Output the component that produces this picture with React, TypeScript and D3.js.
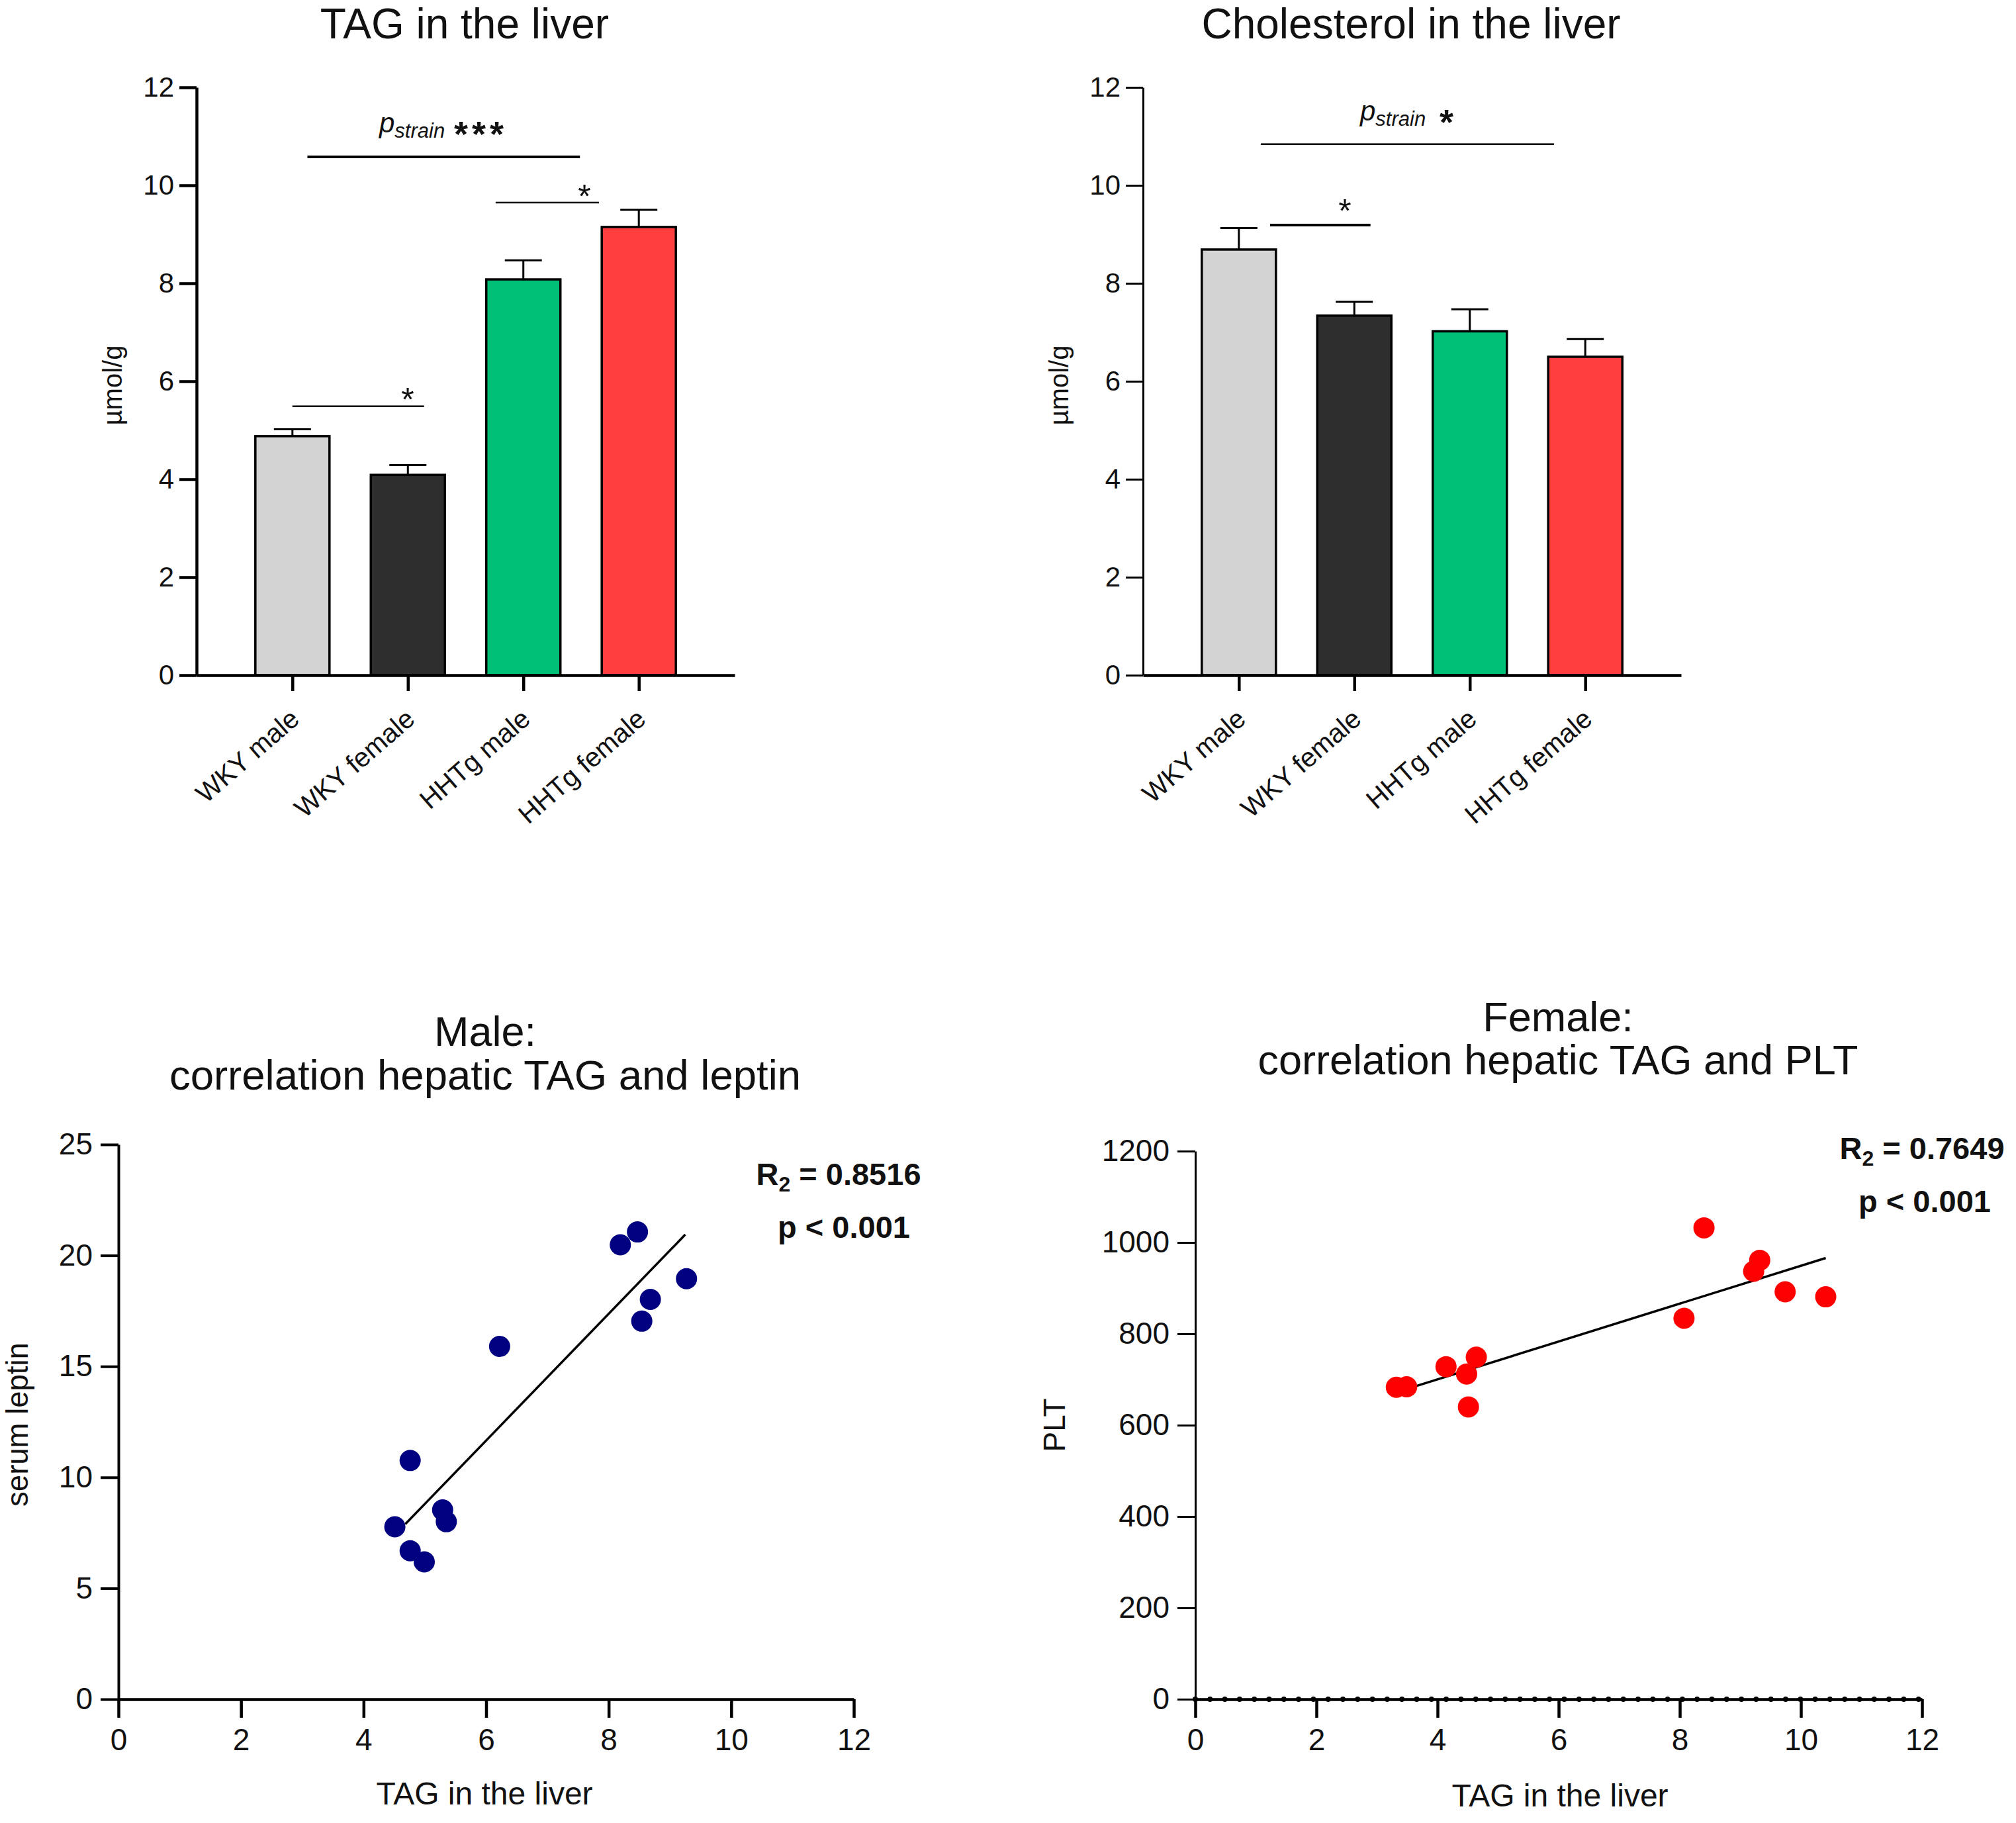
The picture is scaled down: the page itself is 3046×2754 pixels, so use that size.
import { useEffect, useRef } from "react";
import * as d3 from "d3";

const groups = ["WKY male", "WKY female", "HHTg male", "HHTg female"];
const barColors = ["#d3d3d3", "#2e2e2e", "#00c077", "#ff3f3f"];
const barTicks = [0, 2, 4, 6, 8, 10, 12];

const tagMeans = [4.88, 4.09, 8.08, 9.15];
const tagErrors = [0.14, 0.2, 0.39, 0.35];
const cholMeans = [8.69, 7.34, 7.02, 6.5];
const cholErrors = [0.44, 0.28, 0.45, 0.36];

// [from group index, to group index, value, stroke]
const tagBrackets = [
  [0.13, 2.49, 10.58, 4],
  [1.76, 2.655, 9.65, 2.5],
  [0, 1.14, 5.49, 2.5],
];
const cholBrackets = [
  [0.19, 2.73, 10.84, 2.5],
  [0.27, 1.14, 9.19, 4],
];

const maleTag = [4.51, 4.76, 4.76, 4.99, 5.29, 5.35, 6.22, 8.19, 8.47, 8.54, 8.68, 9.27];
const maleLeptin = [7.77, 10.76, 6.69, 6.19, 8.53, 8.0, 15.9, 20.48, 21.06, 17.04, 18.02, 18.95];
const maleFitX = [4.68, 9.25];
const maleFitY = [7.89, 20.94];

const femaleTag = [3.32, 3.49, 4.14, 4.48, 4.51, 4.64, 8.07, 8.4, 9.22, 9.32, 9.74, 10.41];
const femalePlt = [683, 684, 728, 712, 640, 749, 834, 1032, 937, 961, 892, 881];
const femaleFitX = [3.56, 10.41];
const femaleFitY = [682, 966];

const scatterXTicks = [0, 2, 4, 6, 8, 10, 12];
const leptinTicks = [0, 5, 10, 15, 20, 25];
const pltTicks = [0, 200, 400, 600, 800, 1000, 1200];

const FONT = "'Liberation Sans', Arial, sans-serif";

type Sel = d3.Selection<any, unknown, null, undefined>;

const label = (g: Sel, x: number, y: number, text: string, size: number, rotate = 0) =>
  g
    .append("text")
    .attr("transform", `translate(${x},${y}) rotate(${rotate})`)
    .attr("text-anchor", "middle")
    .attr("font-size", size)
    .attr("fill", "#111")
    .text(text);

const styleAxis = (a: Sel, width: number, size: number) => {
  a.selectAll("path,line").attr("stroke", "#000").attr("stroke-width", width);
  a.selectAll("text").attr("font-size", size).attr("font-family", FONT).attr("fill", "#111");
};

function barPanel(
  svg: Sel,
  left: number,
  means: number[],
  errors: number[],
  brackets: number[][],
  yWidth: number
) {
  const top = 132;
  const bottom = 1020;
  const right = left + 813;
  const g = svg.append("g");
  const y = d3.scaleLinear().domain([0, 12]).range([bottom, top]);
  const x = d3.scalePoint().domain(groups).range([left, right]).padding(0.83);
  const idx = d3.scaleLinear().domain([0, 3]).range([x(groups[0])!, x(groups[3])!]);
  const barW = 112;
  const capW = 56;

  groups.forEach((name, i) => {
    const cx = x(name)!;
    g.append("line")
      .attr("x1", cx)
      .attr("x2", cx)
      .attr("y1", y(means[i]))
      .attr("y2", y(means[i] + errors[i]))
      .attr("stroke", "#000")
      .attr("stroke-width", 3);
    g.append("line")
      .attr("x1", cx - capW / 2)
      .attr("x2", cx + capW / 2)
      .attr("y1", y(means[i] + errors[i]))
      .attr("y2", y(means[i] + errors[i]))
      .attr("stroke", "#000")
      .attr("stroke-width", 3);
    g.append("rect")
      .attr("x", cx - barW / 2)
      .attr("width", barW)
      .attr("y", y(means[i]))
      .attr("height", bottom - y(means[i]))
      .attr("fill", barColors[i])
      .attr("stroke", "#000")
      .attr("stroke-width", 3.5);
  });

  const yAxis = g
    .append("g")
    .attr("transform", `translate(${left},0)`)
    .call(d3.axisLeft(y).tickValues(barTicks).tickFormat(d3.format("d")).tickSize(26).tickSizeOuter(0).tickPadding(8));
  styleAxis(yAxis, yWidth, 42);

  const xAxis = g
    .append("g")
    .attr("transform", `translate(0,${bottom})`)
    .call(d3.axisBottom(x).tickSize(24).tickSizeOuter(0).tickFormat(() => ""));
  styleAxis(xAxis, 4.5, 40);

  groups.forEach((name) => {
    g.append("text")
      .attr("transform", `translate(${x(name)! + 13},${bottom + 70}) rotate(-41)`)
      .attr("text-anchor", "end")
      .attr("font-size", 40.5)
      .attr("fill", "#111")
      .text(name);
  });

  brackets.forEach(([a, b, v, w]) => {
    g.append("line")
      .attr("x1", idx(a))
      .attr("x2", idx(b))
      .attr("y1", y(v))
      .attr("y2", y(v))
      .attr("stroke", "#000")
      .attr("stroke-width", w);
  });
  label(g, left - 113, 582, "µmol/g", 40, -90);
}

function strainNote(g: Sel, x: number, y: number, stars: string, starX: number) {
  const t = g.append("text").attr("x", x).attr("y", y).attr("font-size", 42).attr("font-style", "italic").attr("fill", "#111");
  t.append("tspan").text("p");
  t.append("tspan").attr("dy", 8).attr("font-size", 31).text("strain");
  g.append("text")
    .attr("x", starX)
    .attr("y", y + 21)
    .attr("font-size", 54)
    .attr("font-weight", "bold")
    .attr("letter-spacing", 6)
    .attr("fill", "#111")
    .text(stars);
}

function star(g: Sel, x: number, y: number) {
  g.append("text").attr("x", x).attr("y", y).attr("text-anchor", "middle").attr("font-size", 50).attr("fill", "#111").text("*");
}

function scatterPanel(
  svg: Sel,
  opts: {
    left: number;
    right: number;
    top: number;
    yMax: number;
    yTicks: number[];
    xs: number[];
    ys: number[];
    fitX: number[];
    fitY: number[];
    color: string;
    yWidth: number;
    dotted: boolean;
  }
) {
  const bottom = 2567;
  const { left, right, top, yMax, yTicks, xs, ys, fitX, fitY, color, yWidth, dotted } = opts;
  const g = svg.append("g");
  const x = d3.scaleLinear().domain([0, 12]).range([left, right]);
  const y = d3.scaleLinear().domain([0, yMax]).range([bottom, top]);

  const yAxis = g
    .append("g")
    .attr("transform", `translate(${left},0)`)
    .call(d3.axisLeft(y).tickValues(yTicks).tickFormat(d3.format("d")).tickSize(27).tickSizeOuter(0).tickPadding(12));
  styleAxis(yAxis, yWidth, 46);

  const xAxis = g
    .append("g")
    .attr("transform", `translate(0,${bottom})`)
    .call(d3.axisBottom(x).tickValues(scatterXTicks).tickFormat(d3.format("d")).tickSize(28).tickSizeOuter(0).tickPadding(16));
  styleAxis(xAxis, 4.5, 46);

  if (dotted) {
    // the zero line GraphPad draws on top of the axis
    g.append("line")
      .attr("x1", x(0))
      .attr("x2", x(12))
      .attr("y1", y(0))
      .attr("y2", y(0))
      .attr("stroke", "#000")
      .attr("stroke-width", 8)
      .attr("stroke-linecap", "round")
      .attr("stroke-dasharray", "0 22.3");
  }

  g.append("path")
    .attr("d", d3.line<number>().x((d) => x(d)).y((_, i) => y(fitY[i]))(fitX))
    .attr("stroke", "#000")
    .attr("stroke-width", 3.5)
    .attr("fill", "none");

  g.selectAll("circle")
    .data(xs)
    .join("circle")
    .attr("cx", (d) => x(d))
    .attr("cy", (_, i) => y(ys[i]))
    .attr("r", 16)
    .attr("fill", color);
}

function statNote(g: Sel, cx: number, y1: number, cx2: number, y2: number, r2: string) {
  const t = g.append("text").attr("x", cx).attr("y", y1).attr("text-anchor", "middle").attr("font-size", 47).attr("font-weight", "bold").attr("fill", "#111");
  t.append("tspan").text("R");
  t.append("tspan").attr("dy", 10).attr("font-size", 32).text("2");
  t.append("tspan").attr("dy", -10).text(` = ${r2}`);
  g.append("text").attr("x", cx2).attr("y", y2).attr("text-anchor", "middle").attr("font-size", 47).attr("font-weight", "bold").attr("fill", "#111").text("p < 0.001");
}

export default function App() {
  const ref = useRef<SVGSVGElement>(null);

  useEffect(() => {
    const svg: Sel = d3.select(ref.current);
    svg.selectAll("*").remove();

    barPanel(svg, 297, tagMeans, tagErrors, tagBrackets, 4.5);
    barPanel(svg, 1727, cholMeans, cholErrors, cholBrackets, 3);

    const notes = svg.append("g");
    label(notes, 702, 58, "TAG in the liver", 64);
    label(notes, 2132, 58, "Cholesterol in the liver", 64);
    strainNote(notes, 573, 200, "***", 686);
    strainNote(notes, 2055, 182, "*", 2175);
    star(notes, 616, 621);
    star(notes, 883, 314);
    star(notes, 2032, 336);

    scatterPanel(svg, {
      left: 179,
      right: 1290,
      top: 1729,
      yMax: 25,
      yTicks: leptinTicks,
      xs: maleTag,
      ys: maleLeptin,
      fitX: maleFitX,
      fitY: maleFitY,
      color: "#000080",
      yWidth: 4,
      dotted: false,
    });
    scatterPanel(svg, {
      left: 1806,
      right: 2904,
      top: 1739,
      yMax: 1200,
      yTicks: pltTicks,
      xs: femaleTag,
      ys: femalePlt,
      fitX: femaleFitX,
      fitY: femaleFitY,
      color: "#ff0000",
      yWidth: 3,
      dotted: true,
    });

    label(notes, 733, 1580, "Male:", 63);
    label(notes, 733, 1646, "correlation hepatic TAG and leptin", 63.5);
    label(notes, 2354, 1558, "Female:", 63);
    label(notes, 2354, 1623, "correlation hepatic TAG and PLT", 63);
    label(notes, 732, 2726, "TAG in the liver", 48);
    label(notes, 2357, 2729, "TAG in the liver", 48);
    label(notes, 42, 2152, "serum leptin", 45.5, -90);
    label(notes, 1609, 2153, "PLT", 46, -90);
    statNote(notes, 1267, 1790, 1275, 1870, "0.8516");
    statNote(notes, 2904, 1751, 2908, 1831, "0.7649");
  }, []);

  return (
    <svg
      ref={ref}
      width={3046}
      height={2754}
      viewBox="0 0 3046 2754"
      fontFamily={FONT}
      style={{ position: "absolute", left: 0, top: 0, background: "#fff" }}
    />
  );
}
